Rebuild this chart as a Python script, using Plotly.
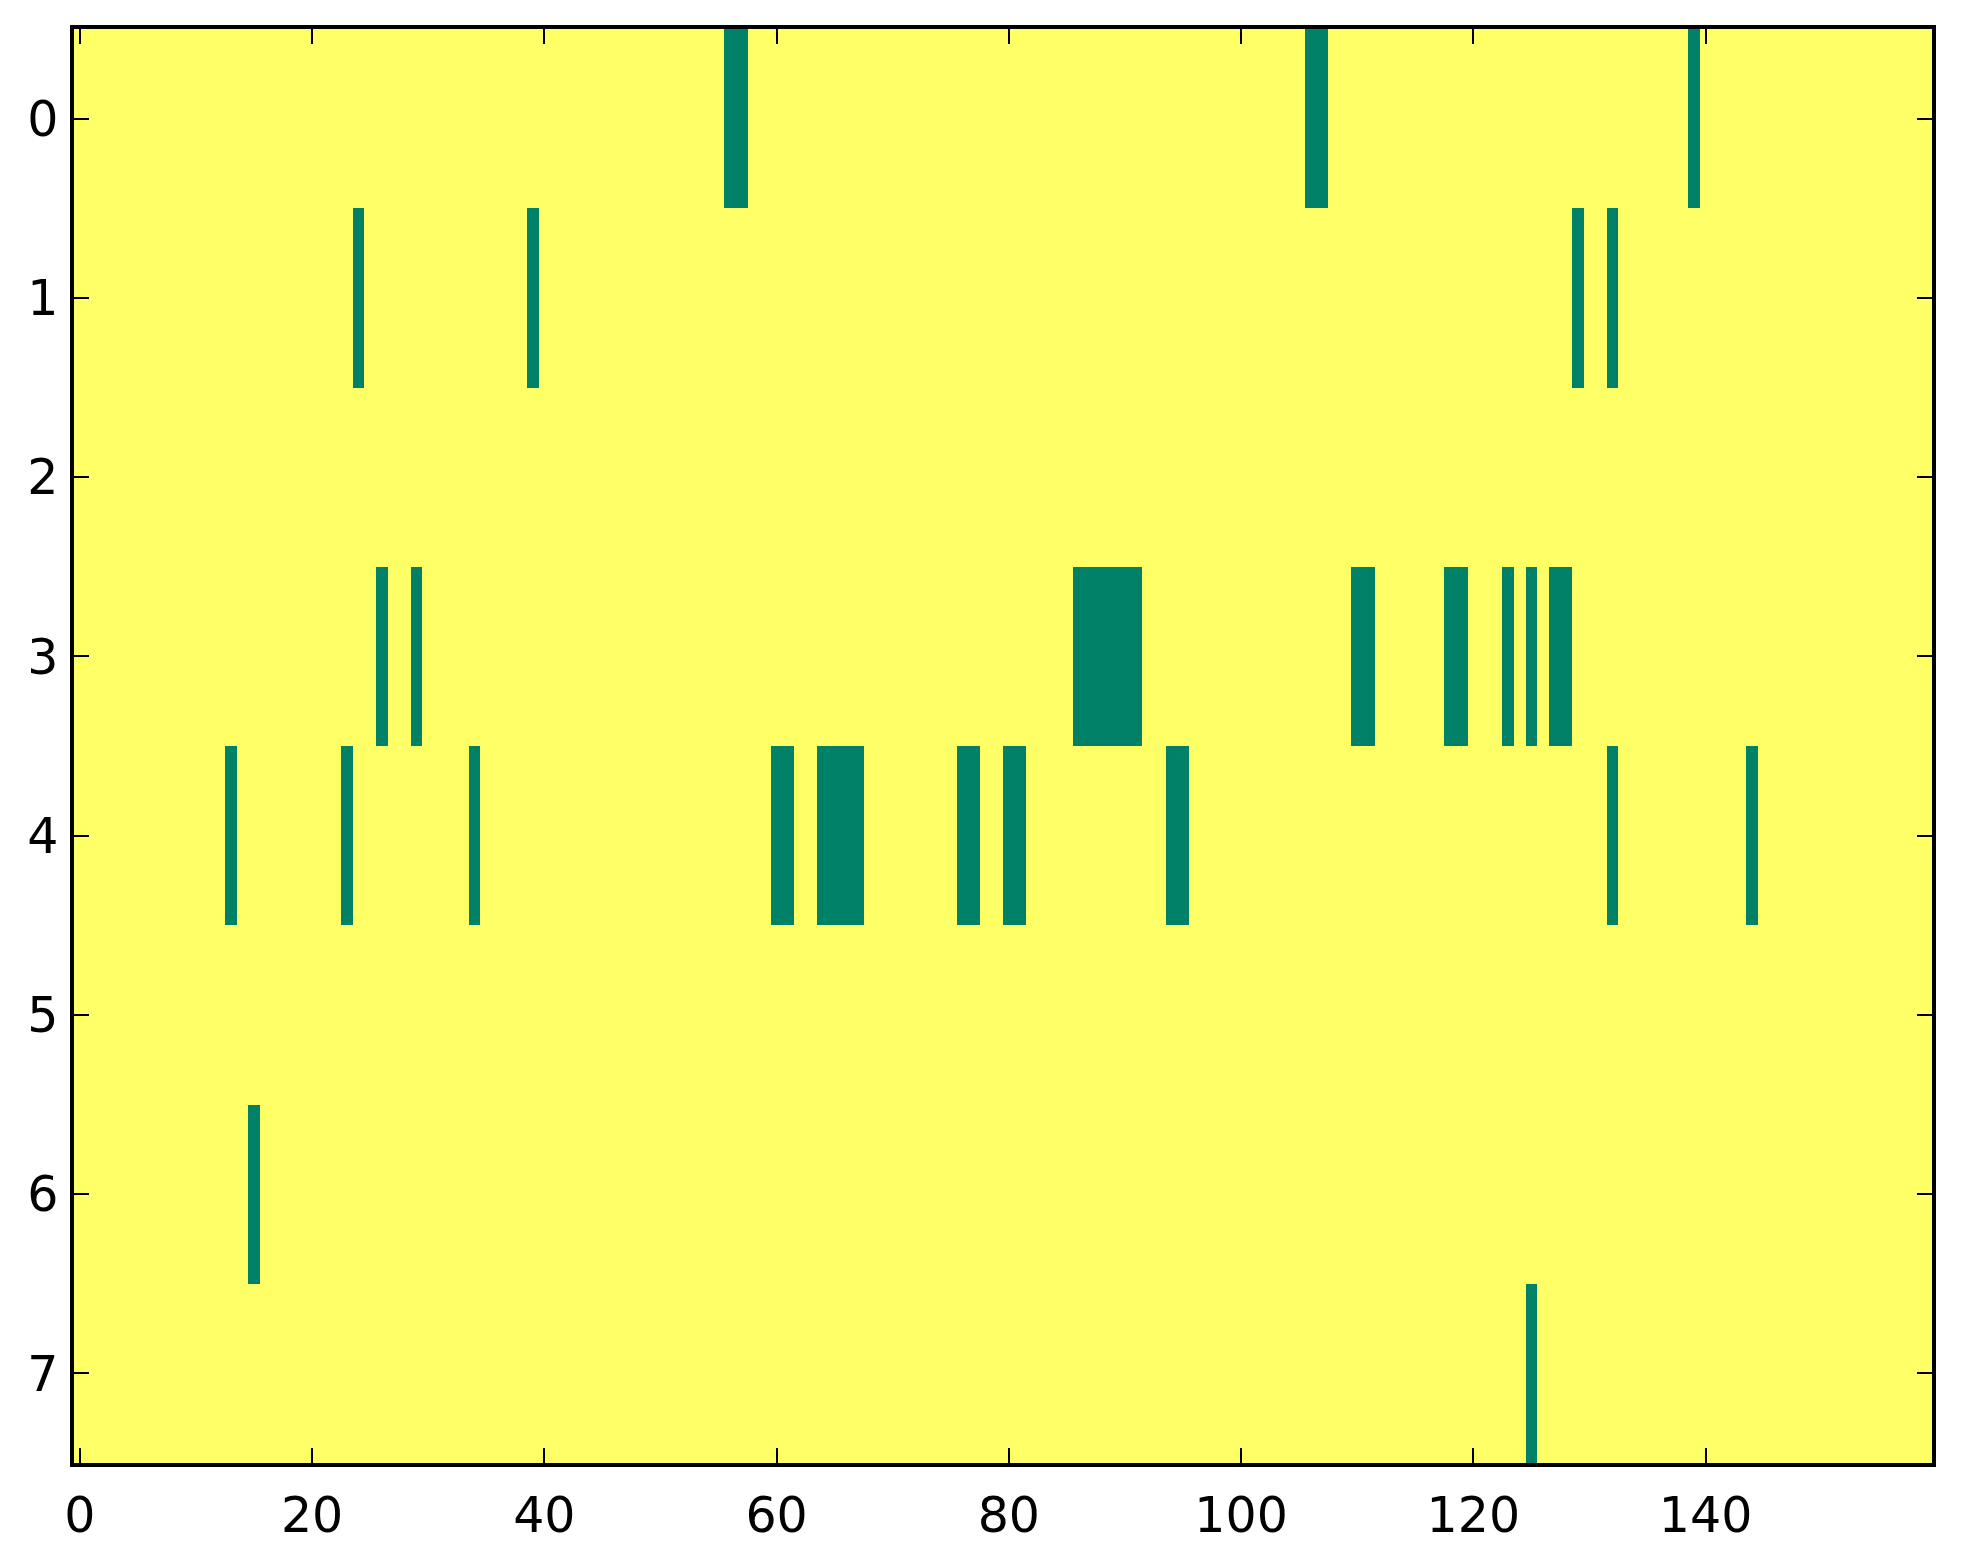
import plotly.graph_objects as go

n_cols = 160
rows = [0, 1, 2, 3, 4, 5, 6, 7]

# columns that are "off" (drawn green) in each row, everything else is "on" (yellow)
off_row0 = [56, 57, 106, 107, 139]
off_row1 = [24, 39, 129, 132]
off_row2 = []
off_row3 = [26, 29, 86, 87, 88, 89, 90, 91, 110, 111, 118, 119, 123, 125, 127, 128]
off_row4 = [13, 23, 34, 60, 61, 64, 65, 66, 67, 76, 77, 80, 81, 94, 95, 132, 144]
off_row5 = []
off_row6 = [15]
off_row7 = [125]

off_cols = [off_row0, off_row1, off_row2, off_row3, off_row4, off_row5, off_row6, off_row7]

z = []
for r in rows:
    z.append([0 if c in off_cols[r] else 1 for c in range(n_cols)])

fig = go.Figure(go.Heatmap(
    z=z,
    x=list(range(n_cols)),
    y=rows,
    colorscale=[[0, '#008066'], [1, '#ffff66']],
    zmin=0, zmax=1,
    showscale=False,
    hoverinfo='skip',
))

axis_style = dict(
    showline=True, linecolor='black', linewidth=3.5, mirror='ticks',
    ticks='inside', ticklen=15, tickwidth=1.8, tickcolor='black',
    showgrid=False, zeroline=False,
    tickfont=dict(family='DejaVu Sans', size=49, color='black'),
)

fig.update_xaxes(range=[-0.5, n_cols - 0.5], tickmode='array',
                 tickvals=[0, 20, 40, 60, 80, 100, 120, 140],
                 ticklabelstandoff=6, **axis_style)
fig.update_yaxes(range=[7.5, -0.5], tickmode='array', tickvals=rows,
                 ticklabelstandoff=2, **axis_style)

# page body keeps its default 8px margin, so the figure is 16px smaller than the window
fig.update_layout(
    width=1947, height=1548,
    margin=dict(l=66, r=23, t=21, b=84),
    paper_bgcolor='white', plot_bgcolor='white',
)

fig.write_html("out.html")
